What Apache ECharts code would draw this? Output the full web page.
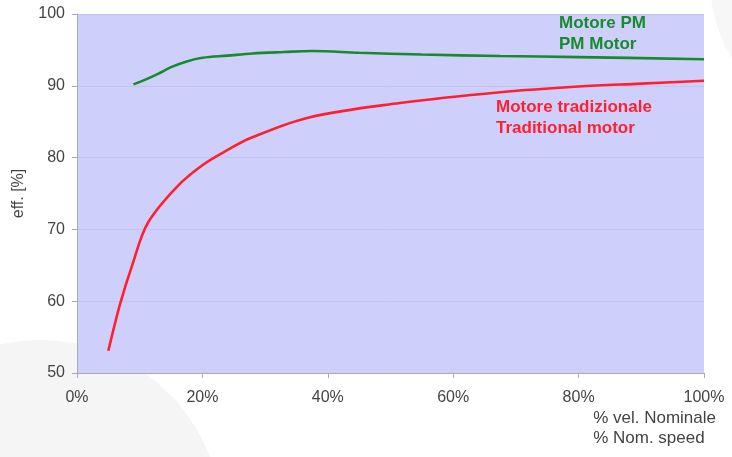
<!DOCTYPE html>
<html>
<head>
<meta charset="utf-8">
<script src="https://cdn.jsdelivr.net/npm/echarts@6/dist/echarts.min.js"></script>
<style>
html,body{margin:0;padding:0;background:#fff;}
#chart{width:732px;height:457px;}
</style>
</head>
<body>
<div id="chart"></div>
<script>
// Efficiency vs. speed (% of nominal)
const pmSpeed = [9, 11, 13, 15, 17.5, 20, 24, 28, 33, 37.5, 45, 55, 67.5, 80, 100];
const pmEff   = [90.2, 90.9, 91.7, 92.6, 93.4, 93.9, 94.2, 94.5, 94.7, 94.85, 94.6, 94.35, 94.15, 94.0, 93.7];

const tradSpeed = [5, 6.9, 8.8, 11.3, 15.9, 20.1, 24.1, 27.6, 37, 51.5, 67.5, 80, 90, 100];
const tradEff   = [53.1, 59.7, 65.0, 70.9, 75.9, 79.0, 81.1, 82.7, 85.6, 87.6, 89.1, 89.9, 90.3, 90.7];

const xTicks = ['0%', '20%', '40%', '60%', '80%', '100%'];
const yName = 'eff. [%]';
const xName = ['% vel. Nominale', '% Nom. speed'];
const pmLabel = ['Motore PM', 'PM Motor'];
const tradLabel = ['Motore tradizionale', 'Traditional motor'];

const font = '"Liberation Sans", Arial, sans-serif';
const pair = (xs, ys) => xs.map((x, i) => [x, ys[i]]);

const chart = echarts.init(document.getElementById('chart'));
chart.setOption({
  animation: false,
  backgroundColor: '#ffffff',
  grid: { left: 77, right: 28, top: 14, bottom: 84, show: true, backgroundColor: '#cfcffc', borderWidth: 0 },
  xAxis: {
    type: 'value', min: 0, max: 100, interval: 20,
    axisLine: { lineStyle: { color: '#a8a8b8', width: 1 } },
    axisTick: { show: true, length: 5, lineStyle: { color: '#a8a8b8' } },
    axisLabel: { color: '#444', fontFamily: font, fontSize: 16, margin: 17,
      formatter: v => xTicks[Math.round(v / 20)] },
    splitLine: { show: false }
  },
  yAxis: {
    type: 'value', min: 50, max: 100, interval: 10,
    name: yName, nameLocation: 'middle', nameGap: 50,
    nameTextStyle: { color: '#444', fontFamily: font, fontSize: 16 },
    axisLine: { show: true, lineStyle: { color: '#a8a8b8', width: 1 } },
    axisTick: { show: true, length: 5, lineStyle: { color: '#a8a8b8' } },
    axisLabel: { color: '#444', fontFamily: font, fontSize: 16, margin: 12 },
    splitLine: { show: true, lineStyle: { color: '#c4c4ee', width: 1 } }
  },
  series: [
    { name: pmLabel[1], type: 'line', smooth: 0.35, symbol: 'none',
      lineStyle: { color: '#178a2c', width: 2.6 }, data: pair(pmSpeed, pmEff), z: 3 },
    { name: tradLabel[1], type: 'line', smooth: 0.35, symbol: 'none',
      lineStyle: { color: '#ff1f2f', width: 2.6 }, data: pair(tradSpeed, tradEff), z: 3 }
  ],
  graphic: [
    { type: 'circle', shape: { cx: 40, cy: 522, r: 182 }, style: { fill: '#f5f5f5' }, z: -10, silent: true },
    { type: 'circle', shape: { cx: 860, cy: -20, r: 150 }, style: { fill: '#f7f7f7' }, z: -10, silent: true },
    { type: 'text', left: 559, top: 13, z: 10,
      style: { text: pmLabel.join('\n'), fill: '#178a2c', font: 'bold 17px ' + font, lineHeight: 21 } },
    { type: 'text', left: 496, top: 97, z: 10,
      style: { text: tradLabel.join('\n'), fill: '#ff1f2f', font: 'bold 17px ' + font, lineHeight: 21 } },
    { type: 'text', right: 16, top: 408, z: 10,
      style: { text: xName.join('\n'), fill: '#444', font: '17px ' + font, lineHeight: 20, align: 'center' } }
  ]
});
</script>
</body>
</html>
